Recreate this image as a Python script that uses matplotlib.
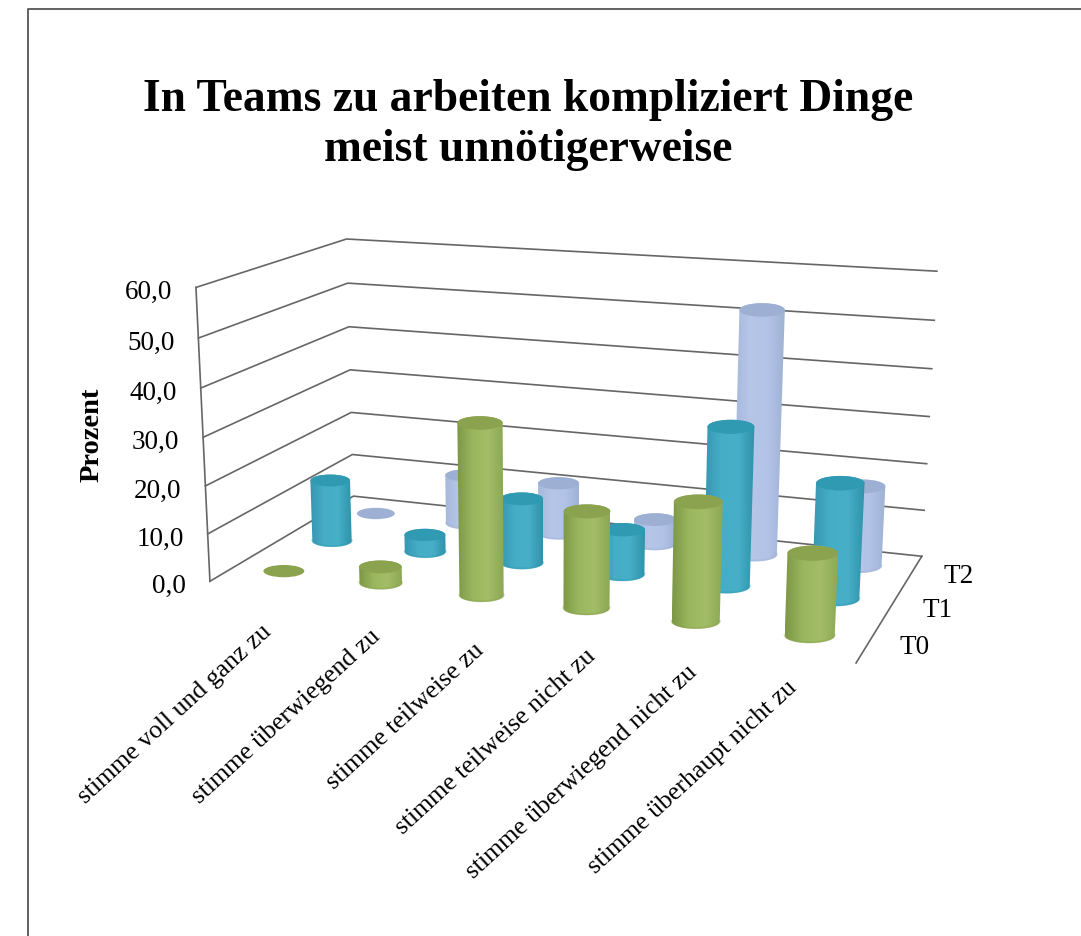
import numpy as np
import matplotlib
matplotlib.use('Agg')
import matplotlib.pyplot as plt
from matplotlib.colors import LinearSegmentedColormap
from matplotlib.patches import Polygon, Ellipse

categories = ['stimme voll und ganz zu', 'stimme überwiegend zu', 'stimme teilweise zu',
              'stimme teilweise nicht zu', 'stimme überwiegend nicht zu', 'stimme überhaupt nicht zu']
series_names = ['T0', 'T1', 'T2']
t0 = [0.0, 3.4, 35.0, 19.5, 23.6, 16.0]
t1 = [13.5, 3.7, 13.8, 9.5, 32.8, 23.5]
t2 = [0.0, 11.0, 11.3, 5.4, 52.0, 17.0]
y_ticks = [0, 10, 20, 30, 40, 50, 60]
title = 'In Teams zu arbeiten kompliziert Dinge\nmeist unnötigerweise'

# chart box corners in the picture: (category, series, value) -> pixel
corners = [((0, 0, 0), (210, 583)), ((0, 1, 0), (353, 497)), ((1, 1, 0), (922, 557)), ((1, 0, 0), (856, 664)),
           ((0, 0, 1), (195, 289)), ((0, 1, 1), (347, 240)), ((1, 1, 1), (937, 272)),
           ((0, 1, 0.5), (350, 371)), ((1, 1, 0.5), (929, 418)), ((0, 0, 0.5), (204, 437))]

# fit a camera matrix to the corners
A, b = [], []
for (u, v, w), (px, py) in corners:
    A.append([u, v, w, 1, 0, 0, 0, 0, -px * u, -px * v, -px * w])
    A.append([0, 0, 0, 0, u, v, w, 1, -py * u, -py * v, -py * w])
    b += [px, py]
m = np.linalg.lstsq(np.array(A, float), np.array(b, float), rcond=None)[0]
cam = np.append(m, 1).reshape(3, 4)


def proj(x, s, val):
    # x in categories, s in series, val in percent
    q = cam @ np.array([x / 6, s / 3, val / 60, 1])
    return q[0] / q[2], q[1] / q[2]


fig = plt.figure(figsize=(10.81, 9.37), dpi=100, facecolor='white')
ax = fig.add_axes([0, 0, 1, 1])
ax.set_xlim(0, 1081)
ax.set_ylim(937, 0)
ax.axis('off')
plt.rcParams['font.family'] = ['Liberation Serif', 'DejaVu Serif']

# outer frame
ax.plot([1081, 28, 28], [10, 10, 937], color='#555555', lw=1.3, zorder=1)

# walls and floor
line = dict(color='#666666', lw=1.2, zorder=2, solid_joinstyle='miter')
for t in y_ticks:
    a, c, d = proj(0, 0, t), proj(0, 3, t), proj(6, 3, t)
    ax.plot([a[0], c[0], d[0]], [a[1], c[1], d[1]], **line)
    ax.text(a[0] - 24, a[1] + 4, ('%.1f' % t).replace('.', ','), ha='right', va='center', fontsize=19.5)
a, c = proj(0, 0, 0), proj(0, 0, 60)
ax.plot([a[0], c[0]], [a[1], c[1]], **line)
c, d = proj(6, 0, 0), proj(6, 3, 0)
ax.plot([c[0], d[0]], [c[1], d[1]], **line)

ax.text(528, 125, title, ha='center', va='center', fontsize=32.8, fontweight='bold', linespacing=1.25)
ax.text(92, 435, 'Prozent', rotation=90, ha='center', va='center', fontsize=20.5, fontweight='bold')

# label nudges, the labels do not sit evenly under the bars
nudge_x = [3, 13, 13, 18, 7, -10]
nudge_y = [32, 25, 26, 18, 20, 20]
for i, name in enumerate(categories):
    px, py = proj(i + 0.5, 0, 0)
    ax.text(px + nudge_x[i], py + nudge_y[i], name, rotation=42.5, rotation_mode='anchor',
            ha='right', va='top', fontsize=18.5)
for j, name in enumerate(series_names):
    px, py = proj(6, j + 0.5, 0)
    ax.text(px + 46, py + 4, name, ha='center', va='center', fontsize=19.5)

# cylinders, back row first
body = [['#7d9846', '#9ab75e', '#a2bd66', '#8da853'],
        ['#3796b2', '#45adc6', '#47b0c8', '#2f93ab'],
        ['#a6b8dc', '#b5c6e8', '#b2c3e8', '#9fb2d4']]
top = ['#8ba24f', '#2f9ab2', '#9db0d3']
rows = [t0, t1, t2]
radius = 0.215
zo = 3
theta = np.linspace(0, np.pi, 40)
for j in [2, 1, 0]:
    cmap = LinearSegmentedColormap.from_list('c%d' % j, body[j])
    for i, val in enumerate(rows[j]):
        x0, y0 = proj(i + 0.5, j + 0.5, 0)
        x1, y1 = proj(i + 0.5, j + 0.5, val)
        w0 = abs(proj(i + 0.5 + radius, j + 0.5, 0)[0] - proj(i + 0.5 - radius, j + 0.5, 0)[0]) / 2
        w1 = abs(proj(i + 0.5 + radius, j + 0.5, val)[0] - proj(i + 0.5 - radius, j + 0.5, val)[0]) / 2
        if val > 0:
            up = np.column_stack([x1 - w1 * np.cos(theta), y1 - 0.3 * w1 * np.sin(theta)])
            down = np.column_stack([x0 + w0 * np.cos(theta), y0 + 0.3 * w0 * np.sin(theta)])
            outline = Polygon(np.vstack([up, down]), closed=True, facecolor='none', edgecolor='none',
                              transform=ax.transData)
            ax.add_patch(outline)
            left, right = min(x0 - w0, x1 - w1), max(x0 + w0, x1 + w1)
            im = ax.imshow(np.linspace(0, 1, 64).reshape(1, -1), cmap=cmap, aspect='auto',
                           extent=[left, right, y0 + 0.32 * w0, y1 - 0.32 * w1], zorder=zo)
            im.set_clip_path(outline)
            # darker rim along the bottom
            ax.plot(down[:, 0], down[:, 1] - 0.7, color=top[j], alpha=0.4, lw=1.4, zorder=zo)
        ax.add_patch(Ellipse((x1, y1), 2 * w1, 0.6 * w1, facecolor=top[j], edgecolor='none', zorder=zo + 1))
        zo += 2

ax.set_xlim(0, 1081)
ax.set_ylim(937, 0)
fig.savefig('out.png', dpi=100)
